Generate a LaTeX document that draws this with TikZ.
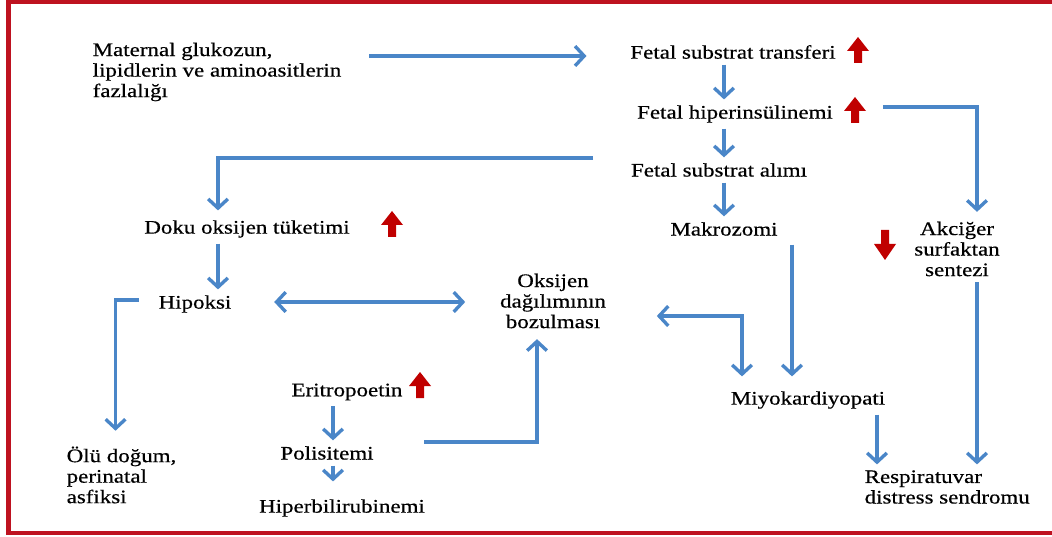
\documentclass[tikz,border=0pt]{standalone}
\usepackage{fontspec}
\setmainfont{Liberation Serif}[FakeStretch=1.2, FakeBold=0.5]
\usepackage{xcolor}
\usetikzlibrary{arrows.meta, calc}
\definecolor{flowblue}{RGB}{74,134,200}
\definecolor{markred}{RGB}{192,0,0}
\definecolor{framered}{RGB}{190,18,32}

\begin{document}
\begin{tikzpicture}[
    x=0.025cm, y=-0.025cm,
    txt/.style={inner sep=1pt, font=\fontsize{13.6}{14.6}\selectfont},
    lefttxt/.style={txt, align=left, anchor=west},
    midtxt/.style={txt, align=center},
    arr/.style={-{Straight Barb[length=6.5pt,width=14pt]}, line width=2.4pt, draw=flowblue, shorten <=3pt, shorten >=3pt},
    dblarr/.style={arr, {Straight Barb[length=6.5pt,width=14pt]}-{Straight Barb[length=6.5pt,width=14pt]}},
    upmark/.pic={\fill[markred] (-4,13) -- (-4,1) -- (-11,1) -- (0,-13) -- (11,1) -- (4,1) -- (4,13) -- cycle;},
    downmark/.pic={\fill[markred] (-4,-15) -- (-4,-1) -- (-11,-1) -- (0,15) -- (11,-1) -- (4,-1) -- (4,-15) -- cycle;}
]

\useasboundingbox (0,0) rectangle (1052,537);
\draw[framered, line width=2.9pt] (1052,1.5) -- (8.5,1.5) -- (8.5,533) -- (1052,533);

\node[lefttxt] (maternal) at (91,72) {Maternal glukozun,\\lipidlerin ve aminoasitlerin\\fazlalığı};
\node[midtxt] (transfer) at (733,52) {Fetal substrat transferi};
\node[midtxt] (hyperins) at (735,114) {Fetal hiperinsülinemi};
\node[midtxt] (uptake) at (719,170) {Fetal substrat alımı};
\node[midtxt] (macro) at (724,229) {Makrozomi};
\node[midtxt] (surfactant) at (957,249) {Akciğer\\surfaktan\\sentezi};

\node[midtxt] (tissue) at (247,229) {Doku oksijen tüketimi};
\node[midtxt] (hypoxia) at (195,304) {Hipoksi};
\node[midtxt] (oxydist) at (553,301) {Oksijen\\dağılımının\\bozulması};
\node[midtxt] (myocard) at (808,400) {Miyokardiyopati};
\node[lefttxt] (rds) at (863,487) {Respiratuvar\\distress sendromu};

\node[midtxt] (epo) at (347,392) {Eritropoetin};
\node[midtxt] (poly) at (327,453) {Polisitemi};
\node[midtxt] (hyperbil) at (342,508) {Hiperbilirubinemi};
\node[lefttxt] (stillbirth) at (65,475) {Ölü doğum,\\perinatal\\asfiksi};

\pic at (858,50) {upmark};
\pic at (855,110) {upmark};
\pic at (392,224) {upmark};
\pic at (885,245) {downmark};
\pic at (420,385) {upmark};

\coordinate (tissuex) at ($(tissue.south)+(-29,0)$);
\coordinate (myox) at ($(myocard.south)+(69,0)$);
\coordinate (lungx) at ($(surfactant.south)+(20,0)$);
\coordinate (epox) at ($(epo.south)+(-14,0)$);
\coordinate (polyx) at ($(poly.south)+(6,0)$);
\coordinate (macrox) at ($(macro.south)+(68,3)$);

\draw[arr] ($(maternal.east)+(22,-16)$) -- ($(transfer.west)+(-38,4)$);
\draw[arr] (transfer.south -| macro) -- (hyperins.north -| macro);
\draw[arr] (hyperins.south -| macro) -- (uptake.north -| macro);
\draw[arr] (uptake.south -| macro) -- (macro.north);
\draw[arr] ($(hyperins.east)+(44,-7)$) -| ($(surfactant.north)+(20,-4)$);
\draw[arr] ($(uptake.west)+(-32,-12)$) -| ($(tissue.north)+(-29,-4)$);
\draw[arr] (tissuex) -- (tissuex |- hypoxia.north);
\draw[dblarr] ($(hypoxia.east)+(37,-2)$) -- ($(hypoxia.east -| oxydist.west)+(-29,-2)$);
\draw[arr] ($(hypoxia.west)+(-14,-4)$) -| ($(stillbirth.north)+(-6,-10)$);

\draw[arr] (epox) -- (epox |- poly.north);
\draw[arr] (polyx) -- ($(polyx |- hyperbil.north)+(0,-12)$);
\draw[arr] ($(poly.east)+(45,-11)$) -| ($(oxydist.south)+(-16,5)$);
\draw[arr] (macrox) -- ($(macrox |- myocard.north)+(0,-9)$);
\draw[dblarr] ($(oxydist.east)+(45,15)$) -| ($(myocard.north)+(-66,-9)$);
\draw[arr] (myox) -- (myox |- rds.north);
\draw[arr] (lungx) -- (lungx |- rds.north);

\end{tikzpicture}
\end{document}
